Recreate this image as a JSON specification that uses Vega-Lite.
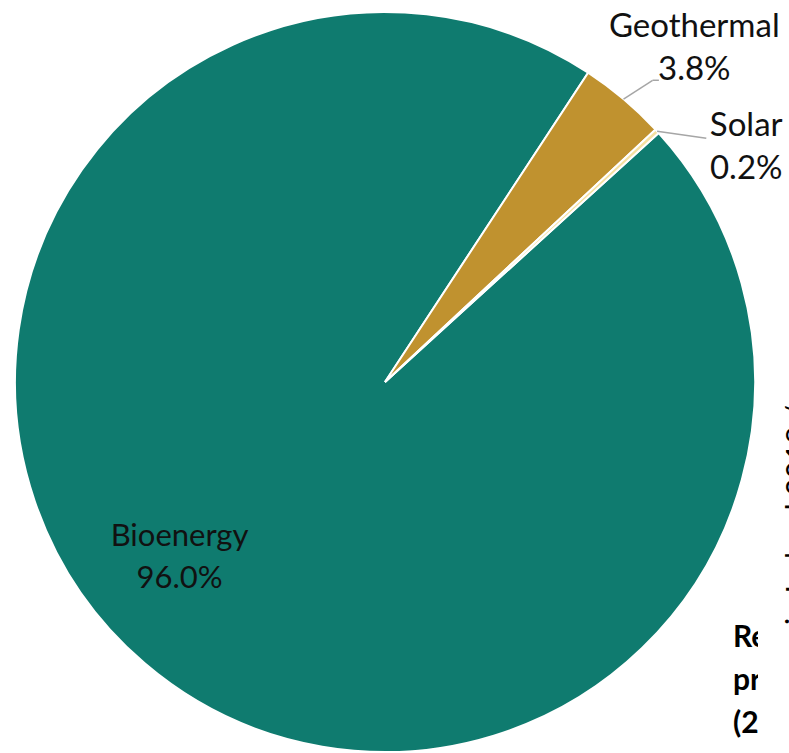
{
  "$schema": "https://vega.github.io/schema/vega-lite/v6.json",
  "width": 746,
  "height": 742,
  "autosize": {"type": "none"},
  "padding": {"left": 12, "top": 11, "right": 31, "bottom": 0},
  "background": "white",
  "config": {"view": {"stroke": null}},
  "data": {
    "values": [
      {"category": "Bioenergy", "share": 96.0},
      {"category": "Geothermal", "share": 3.8},
      {"category": "Solar", "share": 0.2}
    ]
  },
  "layer": [
    {
      "mark": {"type": "arc", "radius": 370, "stroke": "white", "strokeWidth": 2},
      "encoding": {
        "theta": {
          "field": "share",
          "type": "quantitative",
          "stack": true,
          "scale": {"range": [0.8325, 7.1157]}
        },
        "order": {"field": "category", "sort": "ascending"},
        "color": {
          "field": "category",
          "type": "nominal",
          "scale": {
            "domain": ["Bioenergy", "Geothermal", "Solar"],
            "range": ["#0F7B6F", "#C0922F", "#F5E0A0"]
          },
          "legend": null
        }
      }
    },
    {
      "transform": [
        {"calculate": "datum.category + '\\n' + format(datum.share, '.1f') + '%'", "as": "label"}
      ],
      "mark": {
        "type": "text",
        "radius": 264,
        "dx": -34,
        "dy": -46,
        "font": "Lato",
        "fontSize": 31,
        "lineBreak": "\n",
        "lineHeight": 42,
        "color": "#111111"
      },
      "encoding": {
        "theta": {"field": "share", "type": "quantitative", "stack": true},
        "order": {"field": "category", "sort": "ascending"},
        "text": {"condition": {"test": "datum.category === 'Bioenergy'", "field": "label"}, "value": ""}
      }
    },
    {
      "transform": [
        {"calculate": "datum.category + '\\n' + format(datum.share, '.1f') + '%'", "as": "label"}
      ],
      "mark": {
        "type": "text",
        "radius": 455,
        "dx": 16,
        "dy": -7,
        "font": "Lato",
        "fontSize": 33,
        "lineBreak": "\n",
        "lineHeight": 43,
        "color": "#111111"
      },
      "encoding": {
        "theta": {"field": "share", "type": "quantitative", "stack": true},
        "order": {"field": "category", "sort": "ascending"},
        "text": {"condition": {"test": "datum.category === 'Geothermal'", "field": "label"}, "value": ""}
      }
    },
    {
      "transform": [
        {"calculate": "datum.category + '\\n' + format(datum.share, '.1f') + '%'", "as": "label"}
      ],
      "mark": {
        "type": "text",
        "radius": 430,
        "dx": 45,
        "dy": 35,
        "font": "Lato",
        "fontSize": 33,
        "lineBreak": "\n",
        "lineHeight": 43,
        "color": "#111111"
      },
      "encoding": {
        "theta": {"field": "share", "type": "quantitative", "stack": true},
        "order": {"field": "category", "sort": "ascending"},
        "text": {"condition": {"test": "datum.category === 'Solar'", "field": "label"}, "value": ""}
      }
    },
    {
      "transform": [
        {"joinaggregate": [{"op": "sum", "field": "share", "as": "total"}]},
        {
          "window": [{"op": "sum", "field": "share", "as": "cum"}],
          "sort": [{"field": "category", "order": "ascending"}],
          "frame": [null, 0]
        },
        {"calculate": "0.8325 + 2 * PI * (datum.cum - datum.share / 2) / datum.total", "as": "mid"},
        {"filter": "datum.category !== 'Bioenergy'"},
        {"calculate": "datum.category === 'Solar' ? 0.0956 : 0.025", "as": "turn"},
        {"calculate": "sin(datum.mid)", "as": "x0"},
        {"calculate": "cos(datum.mid)", "as": "y0"},
        {"calculate": "1.09 * sin(datum.mid + datum.turn)", "as": "x1"},
        {"calculate": "1.09 * cos(datum.mid + datum.turn)", "as": "y1"},
        {"calculate": "datum.category === 'Solar' ? datum.x1 : datum.x1 + 0.017", "as": "x2"}
      ],
      "layer": [
        {
          "mark": {"type": "rule", "color": "#A6A6A6", "strokeWidth": 1.5},
          "encoding": {
            "x": {"field": "x0", "type": "quantitative", "scale": {"domain": [-1.008108, 1.008108], "nice": false, "zero": false}, "axis": null},
            "y": {"field": "y0", "type": "quantitative", "scale": {"domain": [-1.0027, 1.0027], "nice": false, "zero": false}, "axis": null},
            "x2": {"field": "x1"},
            "y2": {"field": "y1"}
          }
        },
        {
          "mark": {"type": "rule", "color": "#A6A6A6", "strokeWidth": 1.5},
          "encoding": {
            "x": {"field": "x1", "type": "quantitative", "scale": {"domain": [-1.008108, 1.008108], "nice": false, "zero": false}, "axis": null},
            "y": {"field": "y1", "type": "quantitative", "scale": {"domain": [-1.0027, 1.0027], "nice": false, "zero": false}, "axis": null},
            "x2": {"field": "x2"},
            "y2": {"field": "y1"}
          }
        }
      ]
    },
    {
      "data": {"values": [{"note": "Renewable heat\nproduction\n(2018)"}]},
      "mark": {
        "type": "text",
        "clip": true,
        "align": "left",
        "baseline": "alphabetic",
        "font": "Lato",
        "fontSize": 30,
        "fontWeight": "bold",
        "lineBreak": "\n",
        "lineHeight": 43,
        "color": "#000000"
      },
      "encoding": {
        "x": {"datum": 0.94054, "type": "quantitative", "scale": {"domain": [-1.008108, 1.008108], "nice": false, "zero": false}, "axis": null},
        "y": {"datum": -0.71622, "type": "quantitative", "scale": {"domain": [-1.0027, 1.0027], "nice": false, "zero": false}, "axis": null},
        "text": {"field": "note"}
      }
    },
    {
      "data": {"values": [{"note": "in Ireland 2018 /"}]},
      "mark": {
        "type": "text",
        "angle": 270,
        "align": "left",
        "baseline": "top",
        "font": "Lato",
        "fontSize": 30,
        "color": "#000000"
      },
      "encoding": {
        "x": {"datum": 1.0784, "type": "quantitative", "scale": {"domain": [-1.008108, 1.008108], "nice": false, "zero": false}, "axis": null},
        "y": {"datum": -0.65676, "type": "quantitative", "scale": {"domain": [-1.0027, 1.0027], "nice": false, "zero": false}, "axis": null},
        "text": {"field": "note"}
      }
    }
  ]
}
